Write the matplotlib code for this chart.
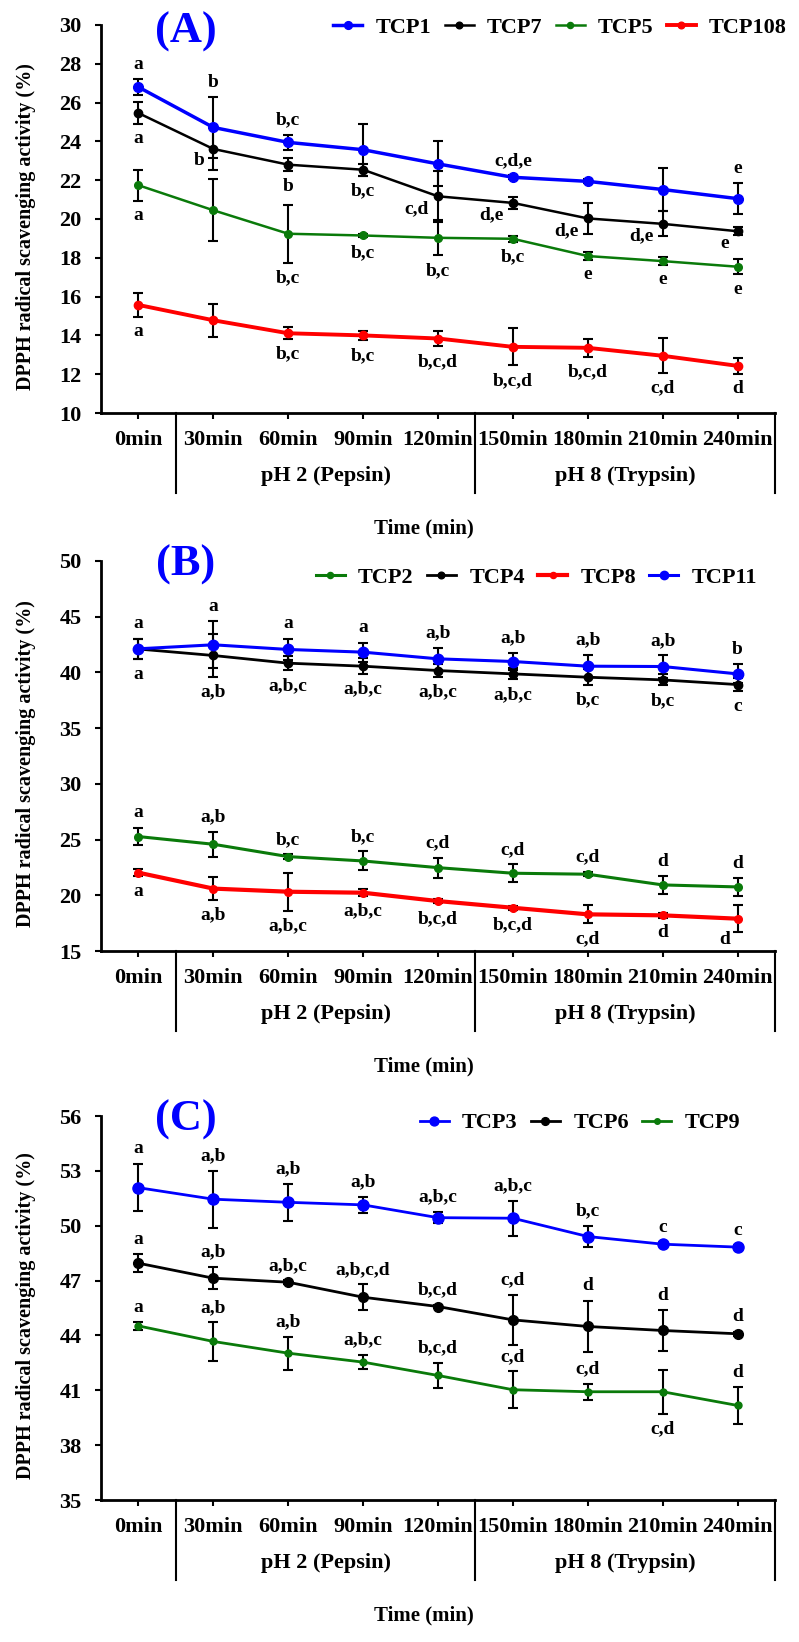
import numpy as np
import matplotlib.pyplot as plt

plt.rcParams['font.family'] = ['Liberation Serif', 'DejaVu Serif']
plt.rcParams['font.weight'] = 'bold'

times = ['0min', '30min', '60min', '90min', '120min', '150min', '180min', '210min', '240min']
groups = ['pH 2 (Pepsin)', 'pH 8 (Trypsin)']

# ---- panel A ----
tcp1 = [26.8, 24.72, 23.95, 23.57, 22.84, 22.15, 21.94, 21.52, 21.05]
tcp1_err = [0.4, 1.56, 0.4, 1.33, 1.16, 0.1, 0.1, 1.1, 0.8]
tcp1_lbl = ['a', 'b', 'b,c', '', '', 'c,d,e', '', '', 'e']
tcp7 = [25.46, 23.61, 22.8, 22.54, 21.17, 20.83, 20.03, 19.75, 19.37]
tcp7_err = [0.55, 1.1, 0.35, 0.3, 1.3, 0.3, 0.8, 0.65, 0.2]
tcp7_lbl = ['a', 'b', 'b', 'b,c', 'c,d', 'd,e', 'd,e', 'd,e', 'e']
tcp5 = [21.74, 20.45, 19.24, 19.15, 19.03, 18.98, 18.09, 17.83, 17.54]
tcp5_err = [0.8, 1.6, 1.5, 0.1, 0.9, 0.15, 0.2, 0.2, 0.4]
tcp5_lbl = ['a', '', 'b,c', 'b,c', 'b,c', 'b,c', 'e', 'e', 'e']
tcp108 = [15.57, 14.78, 14.11, 14.0, 13.84, 13.41, 13.36, 12.95, 12.43]
tcp108_err = [0.6, 0.85, 0.3, 0.25, 0.4, 0.95, 0.45, 0.9, 0.4]
tcp108_lbl = ['a', '', 'b,c', 'b,c', 'b,c,d', 'b,c,d', 'b,c,d', 'c,d', 'd']

# ---- panel B ----
tcp2 = [25.27, 24.58, 23.47, 23.08, 22.48, 21.98, 21.89, 20.93, 20.75]
tcp2_err = [0.8, 1.1, 0.2, 0.85, 0.9, 0.8, 0.2, 0.8, 0.8]
tcp2_lbl = ['a', 'a,b', 'b,c', 'b,c', 'c,d', 'c,d', 'c,d', 'd', 'd']
tcp4 = [42.1, 41.52, 40.83, 40.56, 40.17, 39.87, 39.57, 39.33, 38.91]
tcp4_err = [0.9, 1.9, 0.65, 0.7, 0.6, 0.5, 0.7, 0.5, 0.6]
tcp4_lbl = ['a', 'a,b', 'a,b,c', 'a,b,c', 'a,b,c', 'a,b,c', 'b,c', 'b,c', 'c']
tcp8 = [22.03, 20.6, 20.32, 20.23, 19.48, 18.88, 18.29, 18.2, 17.9]
tcp8_err = [0.3, 1.0, 1.7, 0.3, 0.2, 0.2, 0.8, 0.2, 1.2]
tcp8_lbl = ['a', 'a,b', 'a,b,c', 'a,b,c', 'b,c,d', 'b,c,d', 'c,d', 'd', 'd']
tcp11 = [42.12, 42.48, 42.06, 41.82, 41.22, 40.98, 40.56, 40.53, 39.87]
tcp11_err = [0.9, 2.1, 0.95, 0.85, 1.0, 0.8, 1.0, 1.0, 0.85]
tcp11_lbl = ['a', 'a', 'a', 'a', 'a,b', 'a,b', 'a,b', 'a,b', 'b']

# ---- panel C ----
tcp3 = [52.08, 51.45, 51.28, 51.14, 50.44, 50.41, 49.41, 48.99, 48.83]
tcp3_err = [1.3, 1.55, 1.0, 0.45, 0.3, 0.95, 0.6, 0.1, 0.1]
tcp3_lbl = ['a', 'a,b', 'a,b', 'a,b', 'a,b,c', 'a,b,c', 'b,c', 'c', 'c']
tcp6 = [47.95, 47.13, 46.91, 46.09, 45.58, 44.85, 44.49, 44.27, 44.09]
tcp6_err = [0.5, 0.6, 0.1, 0.7, 0.1, 1.35, 1.4, 1.1, 0.1]
tcp6_lbl = ['a', 'a,b', 'a,b,c', 'a,b,c,d', 'b,c,d', 'c,d', 'd', 'd', 'd']
tcp9 = [44.52, 43.67, 43.03, 42.54, 41.81, 41.03, 40.92, 40.92, 40.17]
tcp9_err = [0.2, 1.05, 0.9, 0.4, 0.7, 1.0, 0.45, 1.2, 1.0]
tcp9_lbl = ['a', 'a,b', 'a,b', 'a,b,c', 'b,c,d', 'c,d', 'c,d', 'c,d', 'd']

BLUE = '#0000ff'
GREEN = '#0a7a0a'
RED = '#ff0000'
BLACK = '#000000'

W, H = 799, 1642
fig = plt.figure(figsize=(W / 100, H / 100), dpi=100)
x = np.arange(len(times))


def add_axes(top, bottom):
    left, right = 101, 775
    return fig.add_axes([left / W, 1 - bottom / H, (right - left) / W, (bottom - top) / H])


def style_axis(ax, ylim, yticks):
    ax.set_xlim(-0.5, 8.5)
    ax.set_ylim(*ylim)
    ax.set_yticks(yticks)
    ax.set_xticks(x)
    ax.set_xticklabels(times)
    for s in ['top', 'right']:
        ax.spines[s].set_visible(False)
    for s in ['left', 'bottom']:
        ax.spines[s].set_linewidth(2)
    ax.tick_params(axis='both', direction='out', length=4, width=1.5, labelsize=16)
    ax.tick_params(axis='x', pad=8)
    ax.tick_params(axis='y', pad=10)
    ax.set_ylabel('DPPH radical scavenging activity (%)', fontsize=14.5, fontweight='bold')
    ax.yaxis.set_label_coords(-0.097, 0.48)

    # multi level category axis like excel
    h_px = ax.get_position().height * H
    tr = ax.get_xaxis_transform()
    for xb in [0.5, 4.5, 8.5]:
        ax.plot([xb, xb], [0, -80 / h_px], transform=tr, color='black', lw=1.5, clip_on=False)
    for gx, g in zip([2.5, 6.5], groups):
        ax.text(gx, -63 / h_px, g, transform=tr, ha='center', va='center', fontsize=16)
    ax.text((424 - 101) / 674, -115 / h_px, 'Time (min)', transform=ax.transAxes,
            ha='center', va='center', fontsize=15)


def draw_series(ax, vals, errs, color, ms, lw, label):
    ax.errorbar(x, vals, yerr=errs, fmt='none', ecolor='black', elinewidth=1.5,
                capsize=3.5, capthick=1.5, zorder=2)
    line, = ax.plot(x, vals, '-o', color=color, ms=ms, lw=lw, label=label, zorder=3)
    return line


def letters(ax, vals, errs, lbls, modes, pad=15):
    # a = above the error bar, b = below it, l = left of the point, s = below-left, tight
    for i, (v, e, t, m) in enumerate(zip(vals, errs, lbls, modes)):
        if not t:
            continue
        if m == 'a':
            ax.annotate(t, (i, v + e), xytext=(0, pad), textcoords='offset pixels',
                        ha='center', va='center', fontsize=14)
        elif m == 'b':
            ax.annotate(t, (i, v - e), xytext=(0, -pad), textcoords='offset pixels',
                        ha='center', va='center', fontsize=14)
        elif m == 's':
            ax.annotate(t, (i, v - e), xytext=(-13, -7), textcoords='offset pixels',
                        ha='center', va='center', fontsize=14)
        else:
            ax.annotate(t, (i, v), xytext=(-9, -12), textcoords='offset pixels',
                        ha='right', va='center', fontsize=14)


def legend(ax, handles, right, y):
    ax.legend(handles=handles, loc='center right', bbox_to_anchor=(right / W, 1 - y / H),
              bbox_transform=fig.transFigure, ncol=len(handles), frameon=False,
              fontsize=16, handlelength=1.3, handletextpad=0.6, columnspacing=0.6,
              borderpad=0, borderaxespad=0, markerscale=0.8)


def panel_tag(txt, y):
    fig.text(186 / W, 1 - y / H, txt, color=BLUE, fontsize=32, fontweight='bold',
             ha='center', va='center')


# Panel A
axA = add_axes(25, 413)
style_axis(axA, (10, 30), np.arange(10, 31, 2))
h1 = draw_series(axA, tcp1, tcp1_err, BLUE, 7, 2.5, 'TCP1')
h7 = draw_series(axA, tcp7, tcp7_err, BLACK, 6, 1.8, 'TCP7')
h5 = draw_series(axA, tcp5, tcp5_err, GREEN, 5.5, 1.8, 'TCP5')
h108 = draw_series(axA, tcp108, tcp108_err, RED, 6, 2.8, 'TCP108')
letters(axA, tcp1, tcp1_err, tcp1_lbl, ['a'] * 9)
letters(axA, tcp7, tcp7_err, tcp7_lbl, ['b', 'l', 'b', 'b', 'l', 'l', 'l', 'l', 'l'])
letters(axA, tcp5, tcp5_err, tcp5_lbl, ['b'] * 9)
letters(axA, tcp108, tcp108_err, tcp108_lbl, ['b'] * 9)
legend(axA, [h1, h7, h5, h108], 787, 28)
panel_tag('(A)', 32)

# Panel B
axB = add_axes(561, 951)
style_axis(axB, (15, 50), np.arange(15, 51, 5))
h2 = draw_series(axB, tcp2, tcp2_err, GREEN, 5.5, 2.2, 'TCP2')
h4 = draw_series(axB, tcp4, tcp4_err, BLACK, 6, 2.0, 'TCP4')
h8 = draw_series(axB, tcp8, tcp8_err, RED, 5.5, 3.0, 'TCP8')
h11 = draw_series(axB, tcp11, tcp11_err, BLUE, 7.5, 2.2, 'TCP11')
letters(axB, tcp2, tcp2_err, tcp2_lbl, ['a'] * 9)
letters(axB, tcp4, tcp4_err, tcp4_lbl, ['b'] * 9)
letters(axB, tcp8, tcp8_err, tcp8_lbl, ['b'] * 8 + ['s'])
letters(axB, tcp11, tcp11_err, tcp11_lbl, ['a'] * 9)
legend(axB, [h2, h4, h8, h11], 757, 578)
panel_tag('(B)', 565)

# Panel C
axC = add_axes(1116, 1500)
style_axis(axC, (35, 56), np.arange(35, 57, 3))
h3 = draw_series(axC, tcp3, tcp3_err, BLUE, 8, 2.0, 'TCP3')
h6 = draw_series(axC, tcp6, tcp6_err, BLACK, 7, 2.0, 'TCP6')
h9 = draw_series(axC, tcp9, tcp9_err, GREEN, 5, 2.0, 'TCP9')
letters(axC, tcp3, tcp3_err, tcp3_lbl, ['a'] * 9)
letters(axC, tcp6, tcp6_err, tcp6_lbl, ['a'] * 9)
letters(axC, tcp9, tcp9_err, tcp9_lbl, ['a'] * 7 + ['b', 'a'])
legend(axC, [h3, h6, h9], 740, 1123)
panel_tag('(C)', 1120)

fig.savefig('out.png', dpi=100)
